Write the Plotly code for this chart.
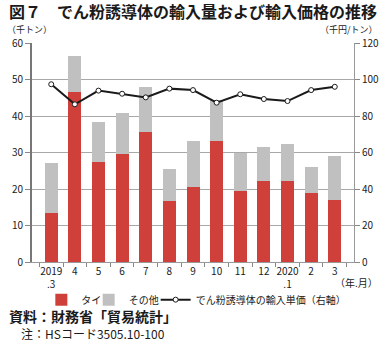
import plotly.graph_objects as go

months = ["2019.3", "4", "5", "6", "7", "8", "9", "10", "11", "12", "2020.1", "2", "3"]
tick_labels = ["2019<br>.3", "4", "5", "6", "7", "8", "9", "10", "11", "12", "2020<br>.1", "2", "3"]
thai = [13.5, 46.6, 27.5, 29.7, 35.7, 16.7, 20.5, 33.2, 19.5, 22.3, 22.3, 18.8, 17.0]
total = [27.1, 56.5, 38.4, 40.7, 48.0, 25.5, 33.2, 44.4, 30.0, 31.5, 32.2, 26.1, 29.1]
others = [round(t - a, 1) for t, a in zip(total, thai)]
price = [97.4, 86.4, 93.9, 92.2, 90.2, 95.0, 94.2, 87.3, 91.9, 89.3, 88.2, 94.2, 96.0]

FONT = "Noto Sans CJK JP"
RED = "#d0403a"
GRAY = "#c0c0c0"

fig = go.Figure()
fig.add_trace(go.Bar(x=months, y=thai, name="タイ", legend="legend",
                     marker=dict(color=RED, line=dict(width=0))))
fig.add_trace(go.Bar(x=months, y=others, name="その他", legend="legend2",
                     marker=dict(color=GRAY, line=dict(width=0))))
fig.add_trace(go.Scatter(x=months, y=price, name="でん粉誘導体の輸入単価（右軸）", yaxis="y2",
                         legend="legend3", mode="lines+markers",
                         line=dict(color="#1a1a1a", width=2),
                         marker=dict(symbol="circle", size=5, color="white",
                                     line=dict(color="#1a1a1a", width=1))))

leg = dict(orientation="h", y=-0.172, xanchor="left", yanchor="middle",
           font=dict(size=10, family=FONT), itemwidth=30, bgcolor="rgba(0,0,0,0)")

fig.update_layout(
    width=391, height=341,
    margin=dict(l=24, r=26, t=43, b=79),
    paper_bgcolor="white", plot_bgcolor="white",
    barmode="stack", bargap=0.45,
    font=dict(family=FONT, size=10, color="#1a1a1a"),
    showlegend=True,
    legend=dict(leg, x=0.029),
    legend2=dict(leg, x=0.176),
    legend3=dict(leg, x=0.384),
    xaxis=dict(type="category", categoryorder="array", categoryarray=months,
               tickvals=months, ticktext=tick_labels, tickangle=0,
               ticks="outside", tickson="boundaries", ticklen=4, tickcolor="#888",
               showline=True, linecolor="#999", linewidth=1,
               tickfont=dict(size=10), showgrid=False),
    yaxis=dict(range=[0, 60], dtick=10, ticks="outside", ticklen=5, tickcolor="#888",
               showline=True, linecolor="#777", linewidth=2,
               showgrid=True, gridcolor="#a8a8a8", gridwidth=1,
               zeroline=False, tickfont=dict(size=10)),
    yaxis2=dict(range=[0, 120], dtick=20, overlaying="y", side="right",
                ticks="outside", ticklen=5, tickcolor="#888",
                showline=True, linecolor="#999", linewidth=1,
                showgrid=False, zeroline=False, tickfont=dict(size=10)),
)

annotations = [
    dict(text="<b>図７　でん粉誘導体の輸入量および輸入価格の推移</b>", x=0, y=1, xref="paper", yref="paper",
         xanchor="left", yanchor="middle", yshift=32, xshift=-25, showarrow=False,
         font=dict(size=16, family=FONT, color="#1a1a1a")),
    dict(text="（千トン）", x=0, y=1, xref="paper", yref="paper", xanchor="left", yanchor="middle",
         xshift=-27, yshift=14, showarrow=False, font=dict(size=9)),
    dict(text="（千円/トン）", x=1, y=1, xref="paper", yref="paper", xanchor="right", yanchor="middle",
         xshift=26, yshift=14, showarrow=False, font=dict(size=9)),
    dict(text="（年.月）", x=1, y=0, xref="paper", yref="paper", xanchor="right", yanchor="middle",
         xshift=26, yshift=-20, showarrow=False, font=dict(size=10)),
    dict(text="<b>資料：財務省「貿易統計」</b>", x=0, y=0, xref="paper", yref="paper", xanchor="left",
         yanchor="middle", xshift=-25, yshift=-54, showarrow=False, font=dict(size=14)),
    dict(text="注：HSコード3505.10-100", x=0, y=0, xref="paper", yref="paper", xanchor="left",
         yanchor="middle", xshift=-13, yshift=-71, showarrow=False, font=dict(size=12)),
]
fig.update_layout(annotations=annotations)

fig.write_html("out.html")
